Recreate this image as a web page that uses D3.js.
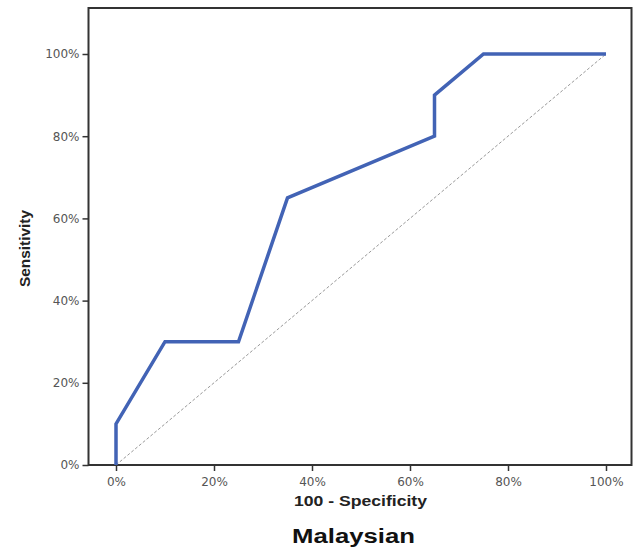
<!DOCTYPE html>
<html>
<head>
<meta charset="utf-8">
<script src="https://cdn.jsdelivr.net/npm/d3@7"></script>
<style>
body { margin: 0; background: #fff; }
text { font-family: "Liberation Sans", Arial, sans-serif; }
</style>
</head>
<body>
<div id="chart"></div>
<script>
// ROC curve points (100 - specificity, sensitivity), in percent
var fpr = [0, 0, 10, 25, 35, 65, 65, 75, 100];
var tpr = [0, 10, 30, 30, 65, 80, 90, 100, 100];
var ticks = [0, 20, 40, 60, 80, 100];

var svg = d3.select("#chart")
    .append("svg")
    .attr("width", 636)
    .attr("height", 550);

var x = d3.scaleLinear().domain([0, 100]).range([116, 606]);
var y = d3.scaleLinear().domain([0, 100]).range([465, 54]);

// frame
svg.append("rect")
    .attr("x", 88.5).attr("y", 8)
    .attr("width", 543).attr("height", 457)
    .attr("fill", "none")
    .attr("stroke", "#333")
    .attr("stroke-width", 2);

var xAxis = svg.append("g")
    .attr("transform", "translate(0,465)")
    .call(d3.axisBottom(x).tickValues(ticks).tickSize(6).tickFormat(function(d) { return d + "%"; }));
var yAxis = svg.append("g")
    .attr("transform", "translate(88.5,0)")
    .call(d3.axisLeft(y).tickValues(ticks).tickSize(6).tickFormat(function(d) { return d + "%"; }));

[xAxis, yAxis].forEach(function(a) {
    a.select(".domain").remove();
    a.selectAll("line").attr("stroke", "#333").attr("stroke-width", 1.5);
    a.selectAll("text")
        .attr("fill", "#555")
        .style("font-size", "12px")
        .style("font-family", "'DejaVu Sans', sans-serif");
});
xAxis.selectAll("text").attr("dy", "1.0em");

// reference diagonal
svg.append("line")
    .attr("x1", x(0)).attr("y1", y(0))
    .attr("x2", x(100)).attr("y2", y(100))
    .attr("stroke", "#999")
    .attr("stroke-width", 1)
    .attr("stroke-dasharray", "3,2");

var line = d3.line()
    .x(function(d) { return x(d[0]); })
    .y(function(d) { return y(d[1]); });

svg.append("path")
    .datum(d3.zip(fpr, tpr))
    .attr("d", line)
    .attr("fill", "none")
    .attr("stroke", "#4263b5")
    .attr("stroke-width", 3.5)
    .attr("stroke-linejoin", "miter");

svg.append("text")
    .text("100 - Specificity")
    .attr("x", 294).attr("y", 506)
    .attr("textLength", 133)
    .attr("lengthAdjust", "spacingAndGlyphs")
    .style("font-size", "14px")
    .style("font-weight", "bold")
    .attr("fill", "#222");

svg.append("text")
    .text("Sensitivity")
    .attr("transform", "translate(30,287) rotate(-90)")
    .attr("textLength", 77)
    .attr("lengthAdjust", "spacingAndGlyphs")
    .style("font-size", "14px")
    .style("font-weight", "bold")
    .attr("fill", "#222");

svg.append("text")
    .text("Malaysian")
    .attr("x", 292).attr("y", 543)
    .attr("textLength", 123)
    .attr("lengthAdjust", "spacingAndGlyphs")
    .style("font-size", "20px")
    .style("font-weight", "bold")
    .attr("fill", "#111");
</script>
</body>
</html>
